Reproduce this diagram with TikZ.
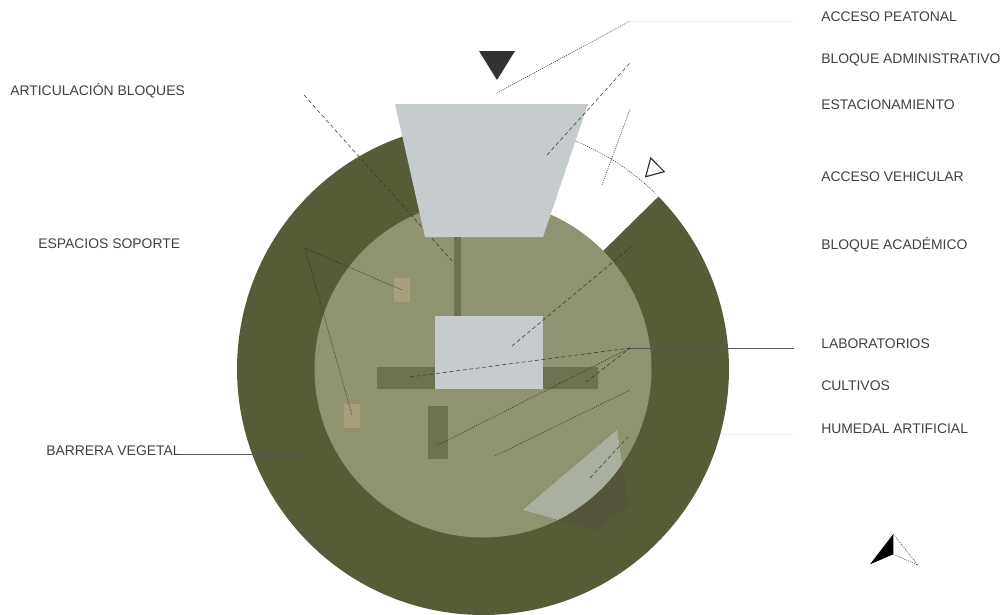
\documentclass[tikz,border=0pt]{standalone}
\usepackage{fontspec}
\setmainfont{Liberation Sans}
\usetikzlibrary{
    positioning,
    calc
}
\definecolor{ringgreen}{HTML}{565C38}
\definecolor{innergreen}{HTML}{8F9372}
\definecolor{blockgray}{HTML}{C6CCCD}
\definecolor{bardark}{HTML}{6C7250}
\definecolor{tanblock}{HTML}{AA9F7C}
\definecolor{wetlight}{HTML}{AAB0A0}
\definecolor{wetdark}{HTML}{55553C}
\definecolor{textgray}{HTML}{404040}
\definecolor{markdark}{HTML}{333132}
\tikzset{
    % Labels
    planlabel/.style={
        anchor=west,
        inner sep=0pt,
        text=textgray,
        font=\fontsize{10.5}{12}\selectfont
    },
    % Leader lines
    leaderdot/.style={
        draw=black!85,
        line width=0.35pt,
        dash pattern=on 0.8pt off 0.8pt
    },
    leaderdash/.style={
        draw=black!80,
        line width=0.4pt,
        dash pattern=on 3pt off 2pt
    },
    leaderfaint/.style={
        draw=black!7,
        line width=0.6pt
    },
    leadersolid/.style={
        draw=black!65,
        line width=0.5pt
    }
}

\begin{document}
\begin{tikzpicture}[x=0.0265cm, y=-0.0265cm]

    \useasboundingbox (0,0) rectangle (1007,614);

    % Labels
    \node[planlabel] (peatonal) at (821,17) {ACCESO PEATONAL};
    \node[planlabel] (administrativo) at (821,60) {BLOQUE ADMINISTRATIVO};
    \node[planlabel] (estacionamiento) at (821,104.5) {ESTACIONAMIENTO};
    \node[planlabel] (vehicular) at (821,176.5) {ACCESO VEHICULAR};
    \node[planlabel] (academico) at (821,244.5) {BLOQUE ACADÉMICO};
    \node[planlabel] (laboratorios) at (821,343.5) {LABORATORIOS};
    \node[planlabel] (cultivos) at (821,385.5) {CULTIVOS};
    \node[planlabel] (humedal) at (821,428.5) {HUMEDAL ARTIFICIAL};
    \node[planlabel] (articulacion) at (10,91) {ARTICULACIÓN BLOQUES};
    \node[planlabel] (soporte) at (38,243.5) {ESPACIOS SOPORTE};
    \node[planlabel] (barrera) at (46,450.5) {BARRERA VEGETAL};

    % Leader points
    \coordinate (peatonalA) at (497,93);
    \coordinate (peatonalB) at (630,21);
    \coordinate (peatonalC) at (794,21);
    \coordinate (adminA) at (547,155);
    \coordinate (adminB) at (630,63);
    \coordinate (estacA) at (602,185);
    \coordinate (estacB) at (630,109);
    \coordinate (acadA) at (512,346);
    \coordinate (acadB) at (631,247);
    \coordinate (labHub) at (630,348);
    \coordinate (labEnd) at (794,348);
    \coordinate (labA) at (410,377);
    \coordinate (labB) at (586,382);
    \coordinate (labC) at (438,445);
    \coordinate (cultA) at (495,456);
    \coordinate (cultB) at (630,390);
    \coordinate (humA) at (590,478);
    \coordinate (humB) at (628,437);
    \coordinate (humC) at (630,434);
    \coordinate (humEnd) at (794,434);
    \coordinate (artA) at (304,95);
    \coordinate (artB) at (453,262);
    \coordinate (sopHub) at (305,248);
    \coordinate (sopA) at (402,290);
    \coordinate (sopB) at (352,415);
    \coordinate (barrA) at (179,454);
    \coordinate (barrB) at (303,454);

    % Faint leader, goes under the ring
    \draw[leaderfaint] (humC) -- (humEnd);

    % Ring, open towards the vehicle access
    \fill[ringgreen] (483,369) -- ++(-44.5:246) arc[start angle=-44.5, end angle=260, radius=246] -- cycle;
    \fill[innergreen] (483,369) circle[radius=168.5];

    % Wetland
    \fill[wetdark] (617.3,429.3) -- (522.3,510) -- (596.7,531) -- (628.3,505.7) -- cycle;
    \begin{scope}
        \clip (483,369) circle[radius=168.5];
        \fill[wetlight] (617.3,429.3) -- (522.3,510) -- (596.7,531) -- (628.3,505.7) -- cycle;
    \end{scope}

    % Leader under the parking block
    \draw[leaderdash] (artA) -- (artB);

    % Blocks
    \fill[blockgray] (395,104) -- (588,104) -- (543,237) -- (425,237) -- cycle;
    \fill[bardark] (454.3,237) rectangle (461.3,316);
    \fill[bardark] (376.7,367) rectangle (597.7,389);
    \fill[bardark] (428,406) rectangle (448.3,459.3);
    \fill[blockgray] (435,316) rectangle (543.3,389);
    \fill[tanblock] (394,277.7) rectangle (410,302.3);
    \fill[tanblock] (344.3,403.7) rectangle (360.3,428);

    % Access marks
    \fill[markdark] (479,51) -- (515,51) -- (497,80) -- cycle;
    \draw[markdark, line width=0.9pt] (650.7,158) -- (664.3,171.7) -- (645.7,176.7) -- cycle;

    % Leaders
    \draw[leaderdot] (peatonalA) -- (peatonalB);
    \draw[leaderfaint] (peatonalB) -- (peatonalC);
    \draw[leaderdash] (adminA) -- (adminB);
    \draw[leaderdot] (estacA) -- (estacB);
    \draw[leaderdot] (483,369) ++(-67.9:246) arc[start angle=-67.9, end angle=-45.5, radius=246];
    \draw[leaderdash] (acadA) -- (acadB);
    \draw[leadersolid] (labHub) -- (labEnd);
    \draw[leaderdash] (labA) -- (labHub);
    \draw[leaderdash] (labB) -- (labHub);
    \draw[leaderdot] (labC) -- (labHub);
    \draw[leaderdot] (cultA) -- (cultB);
    \draw[leaderdash] (humA) -- (humB);
    \draw[leaderdot] (sopHub) -- (sopA);
    \draw[leaderdot] (sopHub) -- (sopB);
    \draw[leadersolid] (barrA) -- (barrB);

    % North arrow
    \fill[black] (893.3,534) -- (870,564.3) -- (893.3,554.3) -- cycle;
    \draw[leaderdot] (893.3,534) -- (917.7,565) -- (893.3,554.3);

\end{tikzpicture}
\end{document}
